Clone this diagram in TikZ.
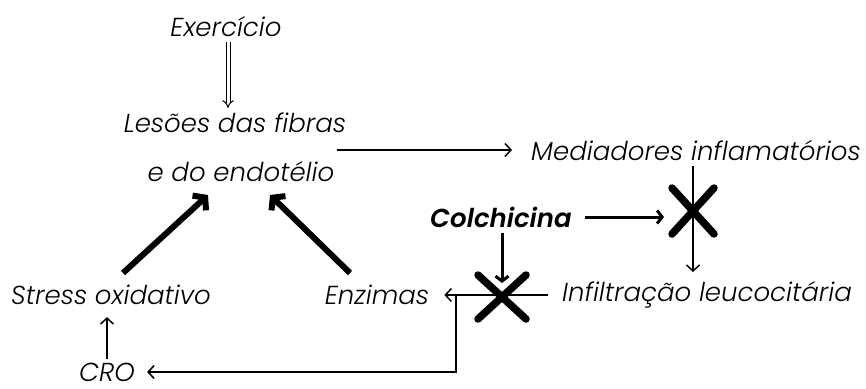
\documentclass[tikz,border=0pt]{standalone}
\usepackage{fontspec}
\setmainfont{Poppins}[ItalicFont={Poppins Light Italic}, BoldItalicFont={Poppins SemiBold Italic}]
\usetikzlibrary{arrows.meta}
\newcommand{\cross}[4] % x, y, half width, half height
{
	% the two strokes of the cross
	\draw[line width=7.5pt, line cap=round] (#1-#3,#2-#4) -- (#1+#3,#2+#4);
	\draw[line width=7.5pt, line cap=round] (#1-#3,#2+#4) -- (#1+#3,#2-#4);
}

\begin{document}
\begin{tikzpicture}[x=1pt, y=-1pt,
	lbl/.style={font=\fontsize{26}{30}\selectfont\itshape, inner sep=0pt, anchor=center},
	thinarr/.style={line width=1.5pt, -{Straight Barb[length=6pt, width=13pt]}},
	dblarr/.style={double, double distance=3pt, line width=1pt, -{Implies[length=7pt, width=14pt]}},
	midarr/.style={line width=3pt, -{Straight Barb[length=5pt, width=13pt]}},
	fatarr/.style={line width=6pt, -{Straight Barb[length=8pt, width=20pt]}}]
	\useasboundingbox (0,0) rectangle (866,388);
	% texts
	\node[lbl] (exerc) at (226,27) {Exercício};
	\node[lbl] (les1) at (235,123) {Lesões das fibras};
	\node[lbl] (les2) at (241,172) {e do endotélio};
	\node[lbl] (med) at (696,150) {Mediadores inflamatórios};
	\node[lbl, font=\fontsize{26}{30}\selectfont\bfseries\itshape] (colch) at (501,217) {Colchicina};
	\node[lbl] (infil) at (707,295) {Infiltração leucocitária};
	\node[lbl] (enz) at (377,295) {Enzimas};
	\node[lbl] (stress) at (111,295) {Stress oxidativo};
	\node[lbl] (cro) at (107,372) {CRO};
	% crossing points
	\coordinate (xtop) at (693,211);
	\coordinate (xbot) at (502,297);
	\coordinate (br) at (456,295);
	\cross{693}{211}{21}{23};
	\cross{502}{297}{24}{22};
	% arrows
	\draw[dblarr] (228,42) -- (228,108);
	\draw[thinarr] (les2.east |- med.west) ++(2,0) -- (512,150);
	\draw[thinarr] (xtop |- 0,166) -- (xtop |- 0,272);
	\draw[midarr, shorten <=13pt, shorten >=29pt] (colch.east) -- (xtop |- colch.east);
	\draw[midarr, shorten <=5pt, shorten >=14pt] (colch.south -| xbot) -- (xbot);
	\draw[thinarr, shorten <=14pt, shorten >=15pt] (infil.west) -- (enz.east);
	\draw[thinarr, shorten >=12pt] (br) |- (cro.east);
	\draw[thinarr, shorten <=4pt, shorten >=12pt] (cro.north) -- (stress.south -| cro.north);
	\coordinate (sa) at (123,273);
	\coordinate (sb) at (208,195);
	\coordinate (ea) at (350,273);
	\coordinate (eb) at (270,195);
	\draw[fatarr] (sa) -- (sb);
	\draw[fatarr] (ea) -- (eb);
\end{tikzpicture}
\end{document}
